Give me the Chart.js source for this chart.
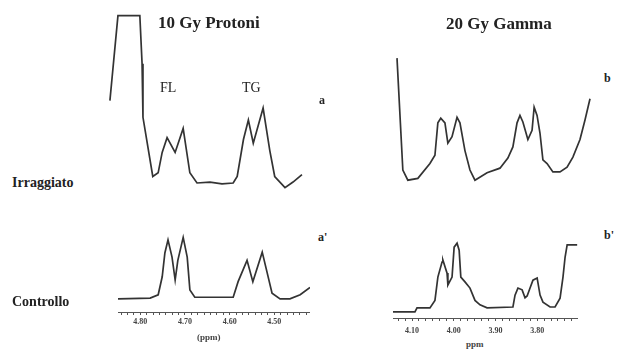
<!DOCTYPE html>
<html>
<head>
<meta charset="utf-8">
<script src="https://cdn.jsdelivr.net/npm/chart.js@4.4.1/dist/chart.umd.min.js"></script>
<style>
  html, body { margin: 0; padding: 0; background: #fff; }
  body { width: 626px; height: 351px; position: relative; overflow: hidden;
         font-family: "Liberation Serif", "DejaVu Serif", serif; color: #222; }
  canvas { position: absolute; }
  .lbl { position: absolute; white-space: nowrap; line-height: 1; }
  .title { font-weight: bold; font-size: 17px; }
  .peak { font-size: 14px; }
  .tag { font-weight: bold; font-size: 12px; }
  .row { font-weight: bold; font-size: 14px; }
  .unit { font-size: 9px; font-weight: bold; color: #444; }
</style>
</head>
<body>
<canvas id="chart-a" style="left:105px;top:10px" width="205" height="185"></canvas>
<canvas id="chart-b" style="left:393px;top:10px" width="202" height="185"></canvas>
<canvas id="chart-a2" style="left:118px;top:230px" width="192" height="102"></canvas>
<canvas id="chart-b2" style="left:393px;top:230px" width="185" height="108"></canvas>

<div class="lbl title" style="left:158px;top:14px">10 Gy Protoni</div>
<div class="lbl title" style="left:446px;top:15px">20 Gy Gamma</div>
<div class="lbl peak" style="left:160px;top:81px">FL</div>
<div class="lbl peak" style="left:242px;top:81px">TG</div>
<div class="lbl tag" style="left:319px;top:94px">a</div>
<div class="lbl tag" style="left:604px;top:72px">b</div>
<div class="lbl tag" style="left:318px;top:231px">a'</div>
<div class="lbl tag" style="left:604px;top:229px">b'</div>
<div class="lbl row" style="left:12px;top:176px">Irraggiato</div>
<div class="lbl row" style="left:12px;top:295px">Controllo</div>
<div class="lbl unit" style="left:197px;top:333px">(ppm)</div>
<div class="lbl unit" style="left:466px;top:340px">ppm</div>

<script>
// ---------------------------------------------------------------
// Data (chemical shift in ppm, intensity in arbitrary units 0-100)
// ---------------------------------------------------------------

// a: 10 Gy protons, irradiated
const protonIrrPpm = [4.868, 4.850, 4.801, 4.796, 4.794, 4.772, 4.760, 4.751, 4.740, 4.722,
  4.704, 4.689, 4.673, 4.644, 4.617, 4.592, 4.583, 4.569, 4.558, 4.547,
  4.525, 4.510, 4.499, 4.476, 4.458, 4.438];
const protonIrrInt = [51, 97, 97, 71, 42, 10, 12, 23, 31, 23,
  36, 12, 6.5, 7, 6, 6.5, 10, 30, 40.5, 28,
  47, 24, 10, 4, 7, 11];

// b: 20 Gy gamma, irradiated
const gammaIrrPpm = [4.136, 4.122, 4.110, 4.086, 4.057, 4.045, 4.038, 4.031, 4.021, 4.014,
  4.004, 3.992, 3.985, 3.973, 3.961, 3.949, 3.920, 3.889, 3.870, 3.858,
  3.848, 3.841, 3.834, 3.822, 3.812, 3.807, 3.800, 3.793, 3.786, 3.776,
  3.762, 3.745, 3.728, 3.714, 3.697, 3.685, 3.673];
const gammaIrrInt = [74, 13.5, 8, 9, 17, 21.5, 39, 41.5, 39, 28,
  31.5, 42, 39, 24, 13.5, 8, 12, 14.5, 20, 26,
  39, 43, 39.5, 30, 35, 47.5, 43, 33.5, 19, 17,
  12.5, 12.5, 15, 20.5, 30, 40.5, 52];

// a': 10 Gy protons, control
const protonCtlPpm = [4.850, 4.778, 4.760, 4.751, 4.745, 4.738, 4.729, 4.722, 4.716, 4.704,
  4.695, 4.689, 4.678, 4.592, 4.581, 4.561, 4.548, 4.527, 4.516, 4.505,
  4.487, 4.465, 4.442, 4.420];
const protonCtlInt = [16, 17, 21, 43, 72, 88, 67, 39, 63, 91,
  67, 27, 18, 18, 37, 63, 37, 73, 48, 23,
  16, 16, 21, 30];

// b': 20 Gy gamma, control
const gammaCtlPpm = [4.146, 4.093, 4.088, 4.057, 4.045, 4.038, 4.028, 4.026, 4.016, 4.014,
  4.004, 3.999, 3.992, 3.987, 3.983, 3.973, 3.961, 3.949, 3.937, 3.920,
  3.858, 3.853, 3.846, 3.836, 3.829, 3.824, 3.817, 3.810, 3.800, 3.793,
  3.786, 3.769, 3.757, 3.745, 3.738, 3.733, 3.728, 3.704];
const gammaCtlInt = [7, 7, 11.5, 11.5, 20, 46.5, 63.5, 66, 51, 37.5,
  46.5, 80.5, 85, 77, 46.5, 41, 34, 20, 15, 11.5,
  12.5, 26, 34, 32, 23, 25, 34, 43, 45.5, 26,
  18, 12.5, 12.5, 22.5, 46.5, 69, 83, 83];

// labelled ticks on the ppm axes
const protonTicks = [4.8, 4.7, 4.6, 4.5];
const gammaTicks = [4.1, 4.0, 3.9, 3.8];

// ---------------------------------------------------------------
// Drawing
// ---------------------------------------------------------------

const LINE_COLOR = '#333';

function makePanel(id, ppm, intensity, xMin, xMax, axis) {
  const ctx = document.getElementById(id).getContext('2d');

  const xScale = {
    type: 'linear',
    reverse: true, // chemical shift decreases to the right
    min: xMin,
    max: xMax,
    display: !!axis
  };

  if (axis) {
    const step = 0.1 / axis.minor;
    Object.assign(xScale, {
      border: { display: true, color: '#555', width: 1 },
      grid: { drawOnChartArea: false, drawTicks: true, tickLength: 3, color: '#555' },
      ticks: {
        autoSkip: false,
        maxRotation: 0,
        padding: axis.pad,
        color: '#444',
        font: { family: 'Liberation Serif', size: 8, weight: 'bold' },
        callback: (value) => axis.labels.some(l => Math.abs(l - value) < 1e-6) ? value.toFixed(2) : ''
      },
      afterBuildTicks: (scale) => {
        // minor ticks between the labelled ones, across the whole axis
        const vals = [];
        const start = axis.labels[0];
        for (let v = start; v <= xMax + 1e-9; v += step) vals.push(v);
        for (let v = start - step; v >= xMin - 1e-9; v -= step) vals.push(v);
        scale.ticks = vals.sort((a, b) => a - b).map(v => ({ value: v }));
      },
      afterFit: (scale) => { scale.height = 20; }
    });
  }

  return new Chart(ctx, {
    type: 'line',
    data: {
      datasets: [{
        data: ppm.map((x, i) => ({ x, y: intensity[i] })),
        borderColor: LINE_COLOR,
        borderWidth: 1.7,
        pointRadius: 0,
        tension: 0,
        fill: false
      }]
    },
    options: {
      responsive: false,
      animation: false,
      layout: { padding: 0 },
      plugins: { legend: { display: false }, tooltip: { enabled: false } },
      scales: {
        x: xScale,
        y: { min: 0, max: 100, display: false }
      }
    }
  });
}

makePanel('chart-a', protonIrrPpm, protonIrrInt, 4.420, 4.879, null);
makePanel('chart-b', gammaIrrPpm, gammaIrrInt, 3.661, 4.1456, null);
makePanel('chart-a2', protonCtlPpm, protonCtlInt, 4.420, 4.850, { labels: protonTicks, minor: 7, pad: 2 });
makePanel('chart-b2', gammaCtlPpm, gammaCtlInt, 3.702, 4.1456, { labels: gammaTicks, minor: 6, pad: 5 });
</script>
</body>
</html>
